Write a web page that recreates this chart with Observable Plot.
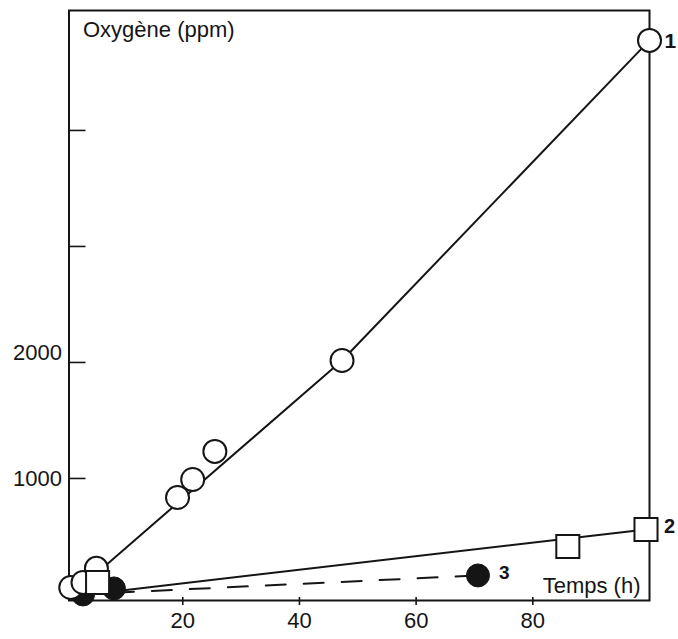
<!DOCTYPE html>
<html>
<head>
<meta charset="utf-8">
<script src="https://cdn.jsdelivr.net/npm/d3@7"></script>
<script src="https://cdn.jsdelivr.net/npm/@observablehq/plot@0.6"></script>
<style>
  html, body { margin: 0; padding: 0; background: #fff; }
  #chart svg { display: block; }
</style>
</head>
<body>
<div id="chart"></div>
<script>
// Series 1: open circles, solid line
const time1 = [0.8, 2.9, 5.2, 19.1, 21.7, 25.5, 47.3, 100];
const oxygen1 = [60, 103, 225, 836, 991, 1233, 2017, 4776];
const fitTime1 = [5.1, 47.3, 100];
const fitOxygen1 = [177, 2017, 4776];

// Series 2: open squares, solid line
const time2 = [5.4, 86, 99.4];
const oxygen2 = [103, 414, 560];
const fitTime2 = [7, 99.4];
const fitOxygen2 = [20, 560];

// Series 3: filled dots, dashed line
const time3 = [2.9, 8.2, 70.6];
const oxygen3 = [0, 52, 164];
const fitTime3 = [8.2, 70.6];
const fitOxygen3 = [15, 164];

const seriesNames = ["1", "2", "3"];
const xTickValues = [20, 40, 60, 80];
const yTickValues = [1000, 2000, 3000, 4000];
const yLabelCentered = [1000];
const yLabelRaised = [2000];
const yTitle = "Oxygène (ppm)";
const xTitle = "Temps (h)";

const zip = (xs, ys) => xs.map((x, i) => ({t: x, o: ys[i]}));
const pts1 = zip(time1, oxygen1), fit1 = zip(fitTime1, fitOxygen1);
const pts2 = zip(time2, oxygen2), fit2 = zip(fitTime2, fitOxygen2);
const pts3 = zip(time3, oxygen3), fit3 = zip(fitTime3, fitOxygen3);
const last = (ts, os, name) => [{t: ts[ts.length - 1], o: os[os.length - 1], name}];

const font = "'Liberation Sans', Arial, Helvetica, sans-serif";
const ink = "#151515";
const frameW = 580.5;
const fs = 22;

const chart = Plot.plot({
  width: 678,
  height: 639,
  marginLeft: 68.5,
  marginRight: 29,
  marginTop: 10,
  marginBottom: 39,
  x: {domain: [0.5, 100], axis: null},
  y: {domain: [-52, 5034], axis: null},
  style: {fontFamily: font, background: "#fff", color: ink},
  marks: [
    Plot.frame({stroke: ink, strokeWidth: 2}),
    Plot.tickY(yTickValues, {y: d => d, stroke: ink, strokeWidth: 1.6, insetRight: frameW - 17}),
    Plot.tickX(xTickValues, {x: d => d, stroke: ink, strokeWidth: 1.6, insetTop: 587, insetBottom: -5}),
    Plot.text(xTickValues, {x: d => d, frameAnchor: "bottom", dy: 27, fontSize: fs, fill: ink, text: d => String(d)}),
    Plot.text(yLabelCentered, {y: d => d, frameAnchor: "left", textAnchor: "end", dx: -7, fontSize: fs, fill: ink, text: d => String(d)}),
    Plot.text(yLabelRaised, {y: d => d, frameAnchor: "left", textAnchor: "end", dx: -7, dy: -10, fontSize: fs, fill: ink, text: d => String(d)}),
    Plot.text([yTitle], {frameAnchor: "top-left", dx: 14, dy: 11, lineAnchor: "top", fontSize: fs, fill: ink, text: d => d}),
    Plot.text([xTitle], {frameAnchor: "bottom-right", dx: -9, dy: -8, lineAnchor: "bottom", fontSize: fs, fill: ink, text: d => d}),
    Plot.line(fit1, {x: "t", y: "o", stroke: ink, strokeWidth: 2}),
    Plot.line(fit2, {x: "t", y: "o", stroke: ink, strokeWidth: 2}),
    Plot.line(fit3, {x: "t", y: "o", stroke: ink, strokeWidth: 2, strokeDasharray: "20,18"}),
    Plot.dot(pts3, {x: "t", y: "o", r: 11.5, fill: ink, stroke: ink, strokeWidth: 1}),
    Plot.dot(pts1, {x: "t", y: "o", r: 11.5, fill: "#fff", stroke: ink, strokeWidth: 2}),
    Plot.dot(pts2, {x: "t", y: "o", r: 13, symbol: "square", fill: "#fff", stroke: ink, strokeWidth: 2}),
    Plot.text(last(time1, oxygen1, seriesNames[0]), {x: "t", y: "o", text: "name", dx: 15, dy: 1, textAnchor: "start", fontSize: 21, fontWeight: "bold", fill: ink}),
    Plot.text(last(time2, oxygen2, seriesNames[1]), {x: "t", y: "o", text: "name", dx: 18, dy: -3, textAnchor: "start", fontSize: 20, fontWeight: "bold", fill: ink}),
    Plot.text(last(time3, oxygen3, seriesNames[2]), {x: "t", y: "o", text: "name", dx: 21, dy: -3, textAnchor: "start", fontSize: 19, fontWeight: "bold", fill: ink})
  ]
});

document.getElementById("chart").appendChild(chart);
</script>
</body>
</html>
